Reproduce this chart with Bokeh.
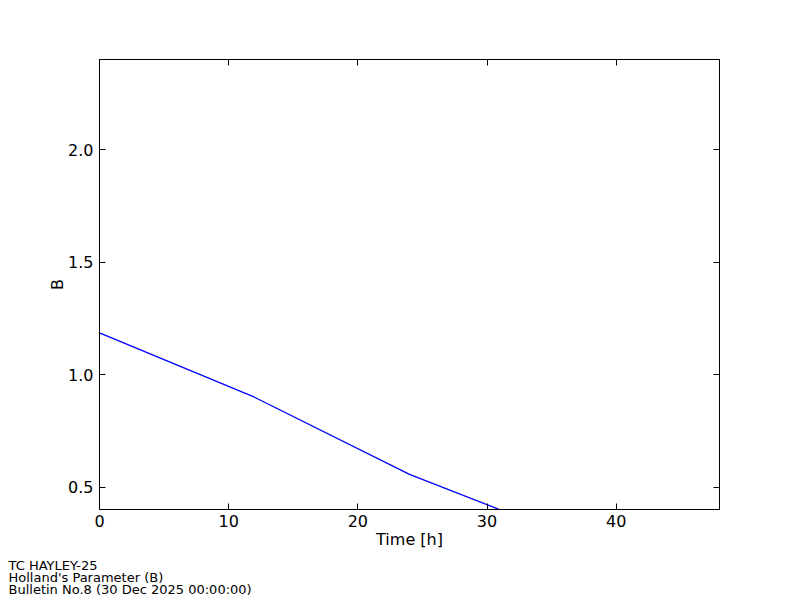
from bokeh.plotting import figure
from bokeh.models import Range1d, LinearAxis, FixedTicker, Title, PrintfTickFormatter, CustomLabelingPolicy
from bokeh.embed import file_html
from bokeh.resources import INLINE

# Data
time_h = [0, 12, 24, 36]
holland_b = [1.185, 0.899, 0.556, 0.287]
x_ticks = [0, 10, 20, 30, 40]
y_ticks = [0.5, 1.0, 1.5, 2.0]
footer_lines = ["TC HAYLEY-25", "Holland's Parameter (B)", "Bulletin No.8 (30 Dec 2025  00:00:00)"]

FONT = "DejaVu Sans"

p = figure(
    frame_width=620, frame_height=450,
    min_border_left=99, min_border_right=81, min_border_top=59, min_border_bottom=91,
    x_range=Range1d(0, 48), y_range=Range1d(0.4, 2.4),
    output_backend="svg", toolbar_location=None,
    x_axis_label="Time [h]", y_axis_label="B",
)
p.background_fill_color = "white"
p.border_fill_color = "white"
p.xgrid.visible = False
p.ygrid.visible = False
p.outline_line_color = "black"
p.outline_line_width = 1

p.line(time_h, holland_b, line_color="#0000ff", line_width=1.3)

def style_axis(ax, ticks, labels=True):
    ax.ticker = FixedTicker(ticks=ticks)
    ax.minor_tick_line_color = None
    ax.major_tick_in = 6
    ax.major_tick_out = 0
    ax.major_tick_line_color = "black"
    ax.axis_line_color = "black"
    ax.major_label_text_font = FONT
    ax.major_label_text_color = "black"
    ax.major_label_text_font_size = "16px"
    ax.axis_label_text_font = FONT
    ax.axis_label_text_font_style = "normal"
    ax.axis_label_text_font_size = "16px"
    ax.axis_label_text_color = "black"
    if not labels:
        ax.major_label_standoff = 0
        ax.major_label_policy = CustomLabelingPolicy(
            code="for (const i of indices) { indices.unset(i) } return indices")

style_axis(p.xaxis[0], x_ticks)
p.xaxis[0].major_label_standoff = 5
p.xaxis[0].axis_label_standoff = 0
style_axis(p.yaxis[0], y_ticks)
p.yaxis[0].formatter = PrintfTickFormatter(format="%.1f")
p.yaxis[0].major_label_standoff = 6
p.yaxis[0].axis_label_standoff = -2

top = LinearAxis()
style_axis(top, x_ticks, labels=False)
p.add_layout(top, "above")
right = LinearAxis()
style_axis(right, y_ticks, labels=False)
p.add_layout(right, "right")

footer_standoffs = [8, -17, 7]
for line, so in zip(footer_lines, footer_standoffs):
    t = Title(text=line, align="left", offset=-91, standoff=so,
              text_font=FONT, text_font_size="13px", text_font_style="normal",
              text_color="black", text_line_height=1.0)
    p.add_layout(t, "below")

open("out.html", "w").write(file_html(p, INLINE))
